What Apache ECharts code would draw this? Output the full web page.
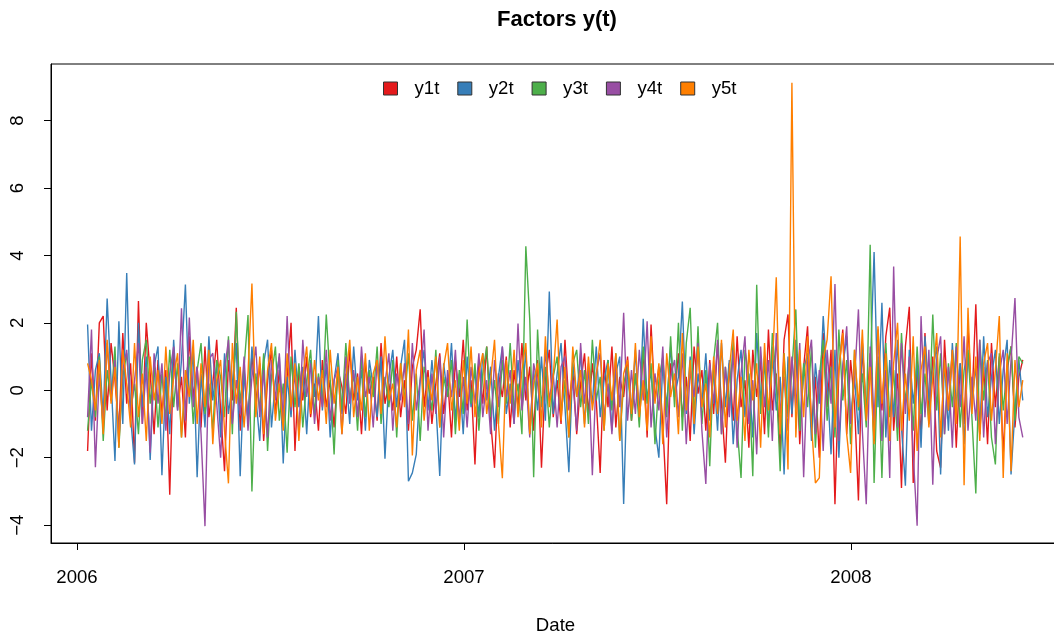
<!DOCTYPE html>
<html>
<head>
<meta charset="utf-8">
<script src="https://cdn.jsdelivr.net/npm/echarts@6/dist/echarts.min.js"></script>
<style>
html,body{margin:0;padding:0;background:#fff;}
#chart{width:1054px;height:637px;}
</style>
</head>
<body>
<div id="chart"></div>
<script>
// Series names and colours
const seriesNames = ['y1t', 'y2t', 'y3t', 'y4t', 'y5t'];
const seriesColors = ['#E41A1C', '#377EB8', '#4DAF4A', '#984EA3', '#FF7F00'];

// Date domain: observations in days since 2006-01-01, from 2006-01-11 to 2008-06-11
const firstDay = 10;
const lastDay = 892;

// x tick labels (days since 2006-01-01)
const xTickDays = [0, 365, 730];
const xTickLabels = ['2006', '2007', '2008'];
// y tick values
const yTicks = [-4, -2, 0, 2, 4, 6, 8];

const y1t = [
-1.8, 1.1, -0.9, 2.0, 2.2, -0.6, 1.4, 0.3, -1.2, 1.7, -0.4, 0.8, -2.15, 2.65, -1.0, 2.0, 0.5, -1.3, 0.9, -0.7,
0.6, -3.1, 1.2, -0.5, 0.4, -1.4, 1.6, -0.2, 0.7, -1.1, 1.3, -0.8, 0.2, 1.5, -0.6, -2.4, 0.9, -0.3, 2.45, -1.2,
0.5, -0.9, 1.1, -0.4, 0.8, -1.5, 0.3, 1.2, -0.7, 0.6, -1.0, 0.4, 2.0, -1.8, 0.7, -0.3, 1.0, -0.8, 0.2, -1.2,
0.9, -0.5, 0.3, -1.1, 0.6, 0.1, -0.7, 1.2, -0.3, 0.5, -1.3, 0.8, -0.1, 0.4, -0.9, 1.4, -0.4, 0.2, -0.6, 1.0,
-0.8, 0.3, -1.2, 0.7, 1.2, 2.4, -0.5, 0.6, -1.0, 0.2, 1.1, -0.7, 0.4, -1.4, 0.9, -0.2, 1.5, -0.6, 0.3, -2.2,
0.8, -0.4, 1.3, -0.9, -2.3, 0.5, -0.2, 1.0, -1.1, 0.6, -0.5, 1.4, -0.3, 0.7, -1.2, 0.9, -2.3, 0.4, 1.2, -0.8,
0.3, -1.0, 1.5, -0.4, 0.6, -1.3, 0.2, 1.1, -0.7, 0.8, -0.3, -2.45, 0.9, -0.5, 1.3, -1.1, 0.4, -0.2, 1.0, -0.9,
0.5, -0.6, 1.2, -1.4, 1.95, -0.3, 0.7, -1.0, -3.38, 0.8, -0.2, 1.1, -0.8, 0.4, -1.5, 1.3, -0.1, 0.6, -1.2, 0.9,
-0.7, 1.4, -0.4, -2.15, 0.8, -0.9, 1.6, -0.5, 0.3, -1.7, 1.2, -0.2, 0.9, -1.3, 1.8, -0.6, 0.5, -1.9, 1.5, 2.25,
-0.8, 1.3, -1.6, 0.7, 1.9, -1.1, 0.4, -2.0, 1.7, -0.5, 1.2, -3.38, 0.6, 1.8, -1.3, 0.9, -0.4, -3.27, 1.4, -0.9,
1.1, -1.5, 0.8, -0.6, 1.6, 2.45, -1.2, 0.5, -2.9, 1.3, 2.48, -2.75, 0.9, -1.4, 1.7, -0.7, 1.0, -1.8, -2.3, 1.5,
-0.6, 1.2, -1.7, 0.8, -1.0, 1.9, -0.4, 2.55, -1.3, 0.7, -1.6, 1.4, -0.5, 1.0, -1.9, 0.6, 1.3, -1.1, 0.4, 0.9
];

const y2t = [
1.95, -1.2, 0.6, 1.1, -0.8, 2.72, 0.3, -2.1, 2.05, -1.0, 3.48, -0.8, -2.2, 2.0, -0.5, 1.0, -2.07, 0.7, 1.3, -2.52,
0.4, -1.3, 1.5, -0.6, 0.9, 3.14, -0.4, 1.2, -2.58, 0.5, -1.1, 1.6, -0.3, 0.8, -1.4, 1.1, -0.7, 0.2, 1.4, -2.55,
0.6, -0.9, 1.3, -0.2, -1.5, 0.8, 1.5, -1.1, 0.3, 1.0, -2.17, 0.4, -0.8, 1.2, -0.5, 0.7, -1.3, 0.9, -0.2, 2.2,
-0.6, 0.8, -1.4, 0.3, 1.1, -0.7, 0.5, -1.0, 1.3, -0.3, 0.6, -1.2, 0.9, 0.1, -0.8, 1.0, -2.03, 0.4, 1.2, -0.5,
0.7, 1.5, -2.7, -2.45, -1.9, 0.3, 1.2, -0.6, 0.9, -0.4, -2.54, 0.8, -0.2, 1.4, -0.9, 0.5, -1.3, 1.0, -0.5, 0.6,
-0.8, 1.1, -0.3, 0.7, -1.2, 0.4, 1.3, -0.7, 0.2, -1.0, 0.9, -0.4, 1.2, -1.3, 0.6, -0.6, 1.0, -0.9, 2.93, -0.7,
0.5, 1.4, -0.5, -2.43, 0.8, -0.2, 1.1, -1.0, 0.6, -0.4, 1.3, -0.8, 0.3, 0.9, -1.2, 0.5, 1.0, -3.37, 0.7, -0.6,
1.2, -0.9, 2.12, -0.3, 0.6, -1.1, -2.0, 0.8, -0.5, 1.3, -0.2, 0.4, 2.63, -0.7, 1.0, -1.3, 0.5, -0.4, 1.1, -0.9,
0.6, -1.2, 1.4, -0.5, 0.9, -1.6, 0.3, 1.2, -0.8, 0.5, -1.4, 1.7, -0.3, 0.8, -1.1, 1.3, -0.6, 0.4, -2.5, 1.0,
-0.7, 1.5, -1.2, 0.6, 1.1, -1.5, 0.8, -0.4, 2.2, 0.3, -1.9, 1.2, -2.0, 0.7, 1.6, -0.9, 0.4, -1.3, 1.4, -0.6,
0.5, 4.1, -0.5, 2.6, -1.4, 0.9, -0.8, 1.5, -1.1, -2.83, 1.2, -0.4, 0.8, -1.7, 1.6, -0.3, 0.6, 1.3, -2.5, 0.9,
-1.2, 1.4, -0.5, 0.8, -1.6, 1.1, -0.3, 0.7, -1.3, 1.6, -0.8, 0.4, 1.2, -1.0, 0.6, 1.5, -2.5, -0.6, 0.9, -0.3
];

const y3t = [
-1.2, 0.3, -0.8, 1.0, -1.5, 0.6, -0.3, 1.3, -1.7, 0.4, 1.1, -0.6, 0.2, -1.3, 0.9, 1.5, -0.4, 0.7, -1.1, 0.5,
-0.9, 1.2, -0.5, 0.8, -1.4, 0.3, 1.0, -1.0, 0.6, 1.4, -0.7, 0.2, -1.2, 0.9, 0.4, -0.8, 1.6, -1.3, 2.33, -0.4,
0.7, 2.23, -3.0, 0.5, -0.6, 1.1, -1.8, 0.4, 1.3, -0.9, 0.2, -1.85, 1.0, -0.5, 0.8, -1.1, 0.3, 1.2, -0.7, 0.5,
-0.4, 2.25, 0.3, -1.9, 0.9, -0.6, 1.4, -0.3, 0.5, -1.2, 1.0, -0.8, 0.6, -0.2, 1.3, -1.0, 0.4, -0.5, 0.9, -1.4,
0.8, -0.3, 1.1, -0.9, 0.5, -1.5, 0.7, 0.2, -0.6, 1.2, -1.1, 0.4, -0.2, 0.9, -1.3, 0.6, -0.7, 2.1, -0.4, 0.8,
-1.2, 0.5, 1.3, -0.8, 0.3, -1.0, 0.9, -0.4, 1.4, -0.6, 0.2, -1.3, 4.27, 2.1, -2.58, 1.8, -0.5, 0.7, -1.1, 0.4,
1.0, -0.7, 0.3, -1.4, 0.8, 1.2, -0.5, 0.6, -1.0, 1.5, -0.3, 0.4, -1.2, 0.9, -0.6, 1.1, -1.5, 0.2, 0.7, -0.9,
0.5, -1.1, 1.3, -0.4, 0.8, -1.6, 0.3, 1.0, -0.8, 1.6, -0.5, 2.0, -1.2, 1.4, 2.45, -0.9, 1.9, -1.0, 0.6, -2.25,
0.9, 2.0, -1.3, 0.7, -0.5, 1.5, -1.1, -2.6, 1.2, 0.4, -2.55, 3.13, -0.7, 1.0, -1.4, 1.7, 0.3, -2.4, 1.1, -0.8,
0.6, 2.4, -1.2, 0.8, -0.5, 1.3, -1.7, 0.4, 1.5, -0.9, 0.7, -1.4, 1.8, -0.3, 0.9, -1.6, 1.2, -0.6, 0.5, -1.1,
4.32, -2.75, 1.0, -2.6, 1.4, -0.8, 0.6, -1.5, 1.7, -0.4, 0.9, -1.2, 1.3, -0.7, 0.5, -1.0, 2.25, -0.6, 1.1, -1.3,
0.8, -0.5, 1.4, -1.1, 0.6, 1.2, -0.8, -3.06, 1.5, -0.3, 0.9, -1.4, -2.2, 1.1, -0.6, 0.7, 1.3, -0.9, 1.0, 0.8
];

const y4t = [
-0.8, 1.8, -2.28, 0.5, -1.1, 1.4, -0.3, 0.9, -1.5, 0.6, 1.2, -0.7, 0.3, 1.4, -1.0, 0.7, -1.85, 1.1, -0.4, 0.8,
-1.2, 0.5, 1.3, -0.6, 2.43, -0.9, 2.16, -0.5, 0.7, -1.3, -4.03, 0.9, 1.1, -0.4, -2.0, 0.6, 1.5, -1.0, 0.3, -0.7,
1.0, -1.2, 0.4, 1.3, -0.8, 0.6, -1.4, 0.9, -0.3, 1.1, -0.9, 2.2, -0.6, 0.5, -1.3, 1.5, -0.2, 0.8, -1.0, 0.4,
-0.5, 1.2, -0.9, 0.3, 0.7, -1.3, 1.0, -0.4, 0.6, -0.8, 1.3, -0.2, 0.4, -1.1, 0.9, -0.6, 0.2, 1.1, -1.2, 0.5,
-0.3, 0.8, -1.0, 1.4, -0.6, 0.3, 1.8, -1.2, 0.5, -0.7, 1.0, -1.4, 0.6, -0.2, 1.2, -0.9, 0.4, -1.1, 0.7, -0.4,
1.1, -0.8, 0.3, -1.3, 0.9, -0.5, 1.3, -0.2, 0.6, -1.0, 1.98, -0.6, 0.4, -1.4, 0.8, 0.2, -0.9, 1.2, -0.3, 0.5,
-1.1, 0.7, 1.0, -0.6, 0.3, -1.2, 1.4, -0.4, 0.8, -2.52, 0.5, 1.1, -0.8, 0.2, -1.3, 0.9, -0.5, 2.3, -0.9, 0.6,
-0.7, 1.2, -0.3, 2.05, -1.1, 0.5, -0.6, 1.3, -1.4, 0.4, 0.9, -0.8, 1.1, -1.6, 0.6, -0.2, 1.4, -1.2, -2.78, 0.8,
-0.4, 1.5, -1.3, 0.7, -0.8, 1.2, -1.7, 0.5, 1.6, -1.0, 0.3, -1.9, 1.3, -0.5, 0.9, -1.5, 1.7, -0.7, 0.4, -1.2,
1.0, -0.6, 1.4, -2.58, 0.8, 1.5, -1.3, 0.6, -1.8, 1.2, -0.4, 3.15, -1.5, 0.7, 1.9, -1.0, 0.3, 2.4, -1.2, -3.38,
1.3, -0.9, 1.8, -1.5, 0.6, -2.6, 3.67, -1.1, 1.4, -0.7, 1.0, -1.9, -4.02, 2.2, -0.8, 1.2, -2.8, 0.9, 1.6, -1.3,
0.7, -1.7, 1.3, -0.5, 1.6, -1.2, 0.4, -0.9, 1.5, -1.4, 0.8, 1.1, -1.6, 0.5, 1.2, -1.0, 0.9, 2.74, -0.8, -1.4
];

const y5t = [
0.8, 0.3, -0.6, 0.9, -1.3, 1.5, -0.4, 0.7, -1.7, 1.2, 0.2, -1.1, 1.4, -0.8, 0.5, -1.5, 1.0, -0.3, 0.6, -1.0,
1.3, -0.7, 0.4, 1.1, -1.4, 0.6, -0.2, 1.5, -1.0, 0.8, -0.5, 1.2, -1.6, 0.3, 0.9, -1.2, -2.76, 1.4, -0.4, 0.7,
-1.1, 0.5, 3.17, -0.8, 1.0, -1.3, 0.6, 1.4, -0.9, 0.2, -1.2, 1.1, -0.5, 0.8, -1.5, 0.4, 1.3, -0.7, 0.9, -0.3,
0.6, -1.0, 1.2, -0.4, 0.7, -1.3, 0.3, 1.5, -0.8, 0.4, -0.6, 1.1, -1.2, 0.5, 0.9, -0.7, 1.6, -0.3, 0.2, -1.1,
0.8, -0.5, 1.8, -1.93, 0.6, 1.2, -0.9, 0.4, -0.3, 1.0, -1.1, 0.7, 1.4, -0.6, 0.3, -1.2, 0.9, -0.4, 1.3, -0.8,
0.5, 1.1, -0.7, 0.3, 1.5, -1.0, -2.61, 0.9, -0.4, 1.2, -0.8, 0.6, 1.4, -1.3, 0.2, 0.8, -1.1, 1.6, -0.5, 0.4,
2.1, -0.9, 0.7, -1.4, 1.3, -0.2, 0.6, -1.1, 1.0, -0.6, 0.4, 1.5, -1.2, 0.8, -0.3, 1.1, -1.5, 0.5, 0.9, -0.7,
1.4, -0.8, 0.3, -1.2, 1.6, -0.4, 0.8, -1.6, 1.1, -0.2, 0.5, -1.3, 1.7, -0.6, 0.9, -1.0, 1.3, -0.5, 0.2, -1.4,
1.0, -0.7, 1.5, -1.1, 0.6, 1.8, -0.9, 0.4, -1.5, 1.2, -0.3, 0.8, -1.7, 1.4, -0.6, 0.7, 3.35, -1.3, 1.1, -2.35,
9.12, -1.4, 1.2, -0.8, 1.6, -1.0, -2.75, -2.6, 0.9, 1.5, 3.38, -1.1, 0.6, 1.7, -1.3, -2.45, 1.2, -0.5, 1.8, -0.9,
0.7, -1.6, 1.9, -0.4, 1.1, -1.5, 0.8, 2.0, -1.2, 0.5, -0.9, 1.6, -1.8, 0.6, 1.3, -1.1, 0.4, 1.7, -1.4, 0.9,
-0.6, 1.2, -1.0, 4.56, -2.82, 2.45, -0.7, 1.0, -1.5, 0.8, 1.4, -0.9, 0.6, 2.2, -2.6, 1.1, -2.4, 0.9, -0.5, 0.3
];

const allValues = [y1t, y2t, y3t, y4t, y5t];
const n = y1t.length;
const days = y1t.map((_, i) => firstDay + i * (lastDay - firstDay) / (n - 1));

const FONT = 'Liberation Sans, Arial, Helvetica, sans-serif';
const FS = 18.6;

const chart = echarts.init(document.getElementById('chart'), null, {renderer: 'canvas'});

const option = {
  animation: false,
  backgroundColor: '#ffffff',
  title: {
    text: 'Factors y(t)',
    left: 552,
    textAlign: 'center',
    top: 4,
    textStyle: {fontFamily: FONT, fontSize: 22, fontWeight: 'bold', color: '#000'}
  },
  legend: {
    data: seriesNames,
    left: 383,
    top: 79,
    padding: 0,
    icon: 'rect',
    itemWidth: 14,
    itemHeight: 13,
    itemGap: 18,
    itemStyle: {borderColor: '#333', borderWidth: 1},
    textStyle: {fontFamily: FONT, fontSize: FS, color: '#000', padding: [0, 0, 0, 12]}
  },
  grid: {
    left: 51,
    top: 64,
    width: 1009,
    height: 479,
    outerBoundsMode: 'none',
    show: true,
    borderColor: '#000',
    borderWidth: 1,
    containLabel: false
  },
  xAxis: {
    type: 'value',
    min: -24.5,
    max: 927.1,
    name: 'Date',
    nameLocation: 'middle',
    nameGap: 73,
    nameTextStyle: {fontFamily: FONT, fontSize: FS, color: '#000'},
    splitLine: {show: false},
    axisLine: {show: true, onZero: false, lineStyle: {color: '#000', width: 1}},
    axisTick: {show: true, length: 7, customValues: xTickDays, lineStyle: {color: '#000'}},
    axisLabel: {
      customValues: xTickDays,
      margin: 25,
      fontFamily: FONT, fontSize: FS, color: '#000',
      formatter: function (v) {
        const k = xTickDays.indexOf(v);
        return k >= 0 ? xTickLabels[k] : '';
      }
    }
  },
  yAxis: {
    type: 'value',
    min: -4.53,
    max: 9.68,
    splitLine: {show: false},
    axisLine: {show: true, onZero: false, lineStyle: {color: '#000', width: 1}},
    axisTick: {show: true, length: 7, customValues: yTicks, lineStyle: {color: '#000'}},
    axisLabel: {
      customValues: yTicks,
      rotate: 90,
      margin: 24,
      fontFamily: FONT, fontSize: FS, color: '#000',
      formatter: function (v) { return v < 0 ? '\u2212' + Math.abs(v) : String(v); }
    }
  },
  series: seriesNames.map((name, s) => ({
    name: name,
    type: 'line',
    showSymbol: false,
    symbol: 'none',
    color: seriesColors[s],
    lineStyle: {width: 1.4, color: seriesColors[s]},
    itemStyle: {color: seriesColors[s]},
    data: allValues[s].map((v, i) => [days[i], v])
  }))
};

chart.setOption(option);
</script>
</body>
</html>
